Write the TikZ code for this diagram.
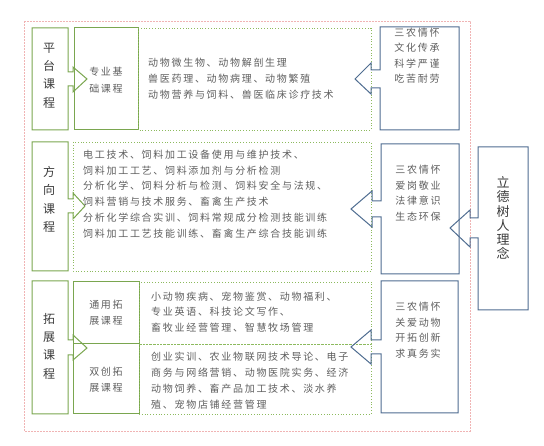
\documentclass[tikz,border=0pt]{standalone}
\usepackage{fontspec}
\setmainfont{Noto Sans CJK SC}
\newfontfamily\spaced[LetterSpace=17]{Noto Sans CJK SC}
\definecolor{leafgreen}{HTML}{7AA64F}
\definecolor{dotgreen}{HTML}{8DBA5E}
\definecolor{slateblue}{HTML}{4E6C90}
\definecolor{rosered}{HTML}{F0B4B4}
\definecolor{inkgray}{HTML}{5E5E5E}
\definecolor{darkink}{HTML}{3A3A3A}
\begin{document}
\begin{tikzpicture}[x=1pt,y=-1pt,
    gbox/.style={draw=leafgreen,line width=1pt},
    dbox/.style={draw=dotgreen,line width=0.8pt,dotted},
    bbox/.style={draw=slateblue,line width=1pt},
    body/.style={font=\spaced\fontsize{10}{15.8}\selectfont,text=inkgray,align=left,inner sep=0pt,anchor=west},
    bluetext/.style={font=\spaced\fontsize{10}{15.5}\selectfont,text=inkgray,align=center,inner sep=0pt},
    tag/.style={font=\fontsize{12}{18.3}\selectfont,text=darkink,align=center,inner sep=0pt},
    sub/.style={font=\spaced\fontsize{10}{16.5}\selectfont,text=inkgray,align=center,inner sep=0pt}]
  \useasboundingbox (0,0) rectangle (544,446);

  % outer frame
  \draw[rosered,line width=0.8pt,dash pattern=on 2pt off 1pt] (24,21) rectangle (470,431);

  % platform courses
  \draw[gbox] (32,28) -- (68,28) -- (68,72) -- (73,72) -- (73,67) -- (87,79) -- (73,92) -- (73,86)
    -- (68,86) -- (68,130) -- (32,130) -- cycle;
  \draw[gbox] (74,28) rectangle (138,130);
  \draw[dbox] (138,28) rectangle (371,130);
  \draw[bbox] (380,70) -- (380,27) -- (459,27) -- (459,130) -- (380,130) -- (380,88) -- (371,88)
    -- (371,94) -- (355,79) -- (371,63) -- (371,70) -- cycle;
  \node[tag] (pingtai) at (49,75.5) {平\\台\\课\\程};
  \node[sub] (jichu) at (106,80) {专业基\\础课程};
  \node[body] (jichulist) at (148,79) {动物微生物、动物解剖生理\\兽医药理、动物病理、动物繁殖\\动物营养与饲料、兽医临床诊疗技术};
  \node[bluetext] (sude1) at (417,55.5) {三农情怀\\文化传承\\科学严谨\\吃苦耐劳};

  % direction courses
  \draw[gbox] (32,142) -- (68,142) -- (68,199) -- (73,199) -- (73,193) -- (85,206) -- (73,219) -- (73,213)
    -- (68,213) -- (68,271) -- (32,271) -- cycle;
  \draw[dbox] (73,142) rectangle (371,271);
  \draw[bbox] (381,201) -- (381,144) -- (459,144) -- (459,274) -- (381,274) -- (381,217) -- (372,217)
    -- (372,227) -- (351,209) -- (372,191) -- (372,201) -- cycle;
  \node[tag] (fangxiang) at (49,199.5) {方\\向\\课\\程};
  \node[body] (fangxianglist) at (83,194) {电工技术、饲料加工设备使用与维护技术、\\饲料加工工艺、饲料添加剂与分析检测\\分析化学、饲料分析与检测、饲料安全与法规、\\饲料营销与技术服务、畜禽生产技术\\分析化学综合实训、饲料常规成分检测技能训练\\饲料加工工艺技能训练、畜禽生产综合技能训练};
  \node[bluetext] (sude2) at (418,193) {三农情怀\\爱岗敬业\\法律意识\\生态环保};

  % extension courses
  \draw[gbox] (32,281) -- (68,281) -- (68,340) -- (73,340) -- (73,335) -- (87,348) -- (73,360) -- (73,355)
    -- (68,355) -- (68,414) -- (32,414) -- cycle;
  \draw[gbox] (73,282) rectangle (139,344);
  \draw[gbox] (73,344) rectangle (139,414);
  \draw[dbox] (139,282) rectangle (371,344);
  \draw[dbox] (139,344) rectangle (371,414);
  \draw[bbox] (381,340) -- (381,281) -- (458,281) -- (458,413) -- (381,413) -- (381,354) -- (371,354)
    -- (371,364) -- (351,347) -- (371,330) -- (371,340) -- cycle;
  \node[tag] (tuozhan) at (49,346) {拓\\展\\课\\程};
  \node[sub] (tongyong) at (106,312.5) {通用拓\\展课程};
  \node[sub] (shuangchuang) at (106,379.5) {双创拓\\展课程};
  \node[body] (tongyonglist) at (151,312) {小动物疾病、宠物鉴赏、动物福利、\\专业英语、科技论文写作、\\畜牧业经营管理、智慧牧场管理};
  \node[body] (shuangchuanglist) at (151,380.5) {创业实训、农业物联网技术导论、电子\\商务与网络营销、动物医院实务、经济\\动物饲养、畜产品加工技术、淡水养\\殖、宠物店铺经营管理};
  \node[bluetext] (sude3) at (418,330) {三农情怀\\关爱动物\\开拓创新\\求真务实};

  % moral education
  \draw[bbox] (478,218) -- (478,147) -- (528,147) -- (528,310) -- (478,310) -- (478,238) -- (470,238)
    -- (470,247) -- (450,228) -- (470,210) -- (470,218) -- cycle;
  \node[font=\fontsize{13}{14.2}\selectfont,text=darkink,align=center,inner sep=0pt] (lide) at (503,218) {立\\德\\树\\人\\理\\念};
\end{tikzpicture}
\end{document}
